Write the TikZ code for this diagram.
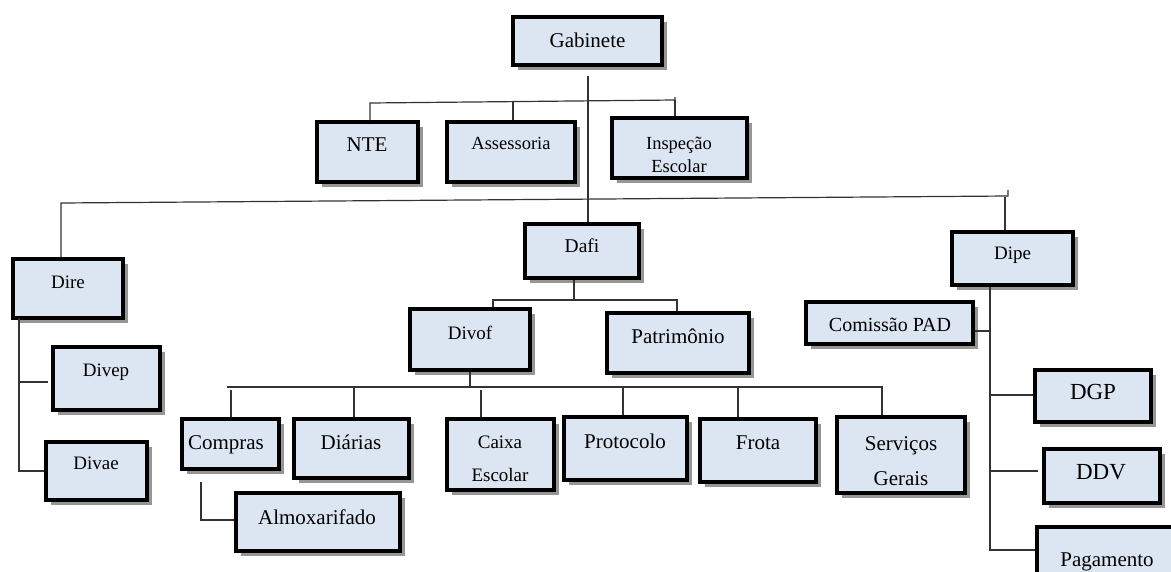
\documentclass[tikz,border=0pt]{standalone}
\usepackage{fontspec}
\setmainfont{Liberation Serif}
\usetikzlibrary{fit,shadows,calc}
\definecolor{boxfill}{HTML}{DCE6F2}
\tikzset{
  ob/.style={draw=black, line width=3.4pt, fill=boxfill, inner sep=0pt, rectangle,
    drop shadow={shadow xshift=4.5pt, shadow yshift=-4.5pt, fill=black!55, opacity=0.75}},
  lbl/.style={inner sep=0pt, align=center, text=black, yshift=-3pt},
  one/.style={text height=.68em, text depth=0pt},
  fa/.style={font=\fontsize{21}{24}\selectfont},
  fb/.style={font=\fontsize{19}{22}\selectfont},
  fc/.style={font=\fontsize{23}{26}\selectfont},
  conn/.style={draw=black!80, line width=1.2pt},
}
\begin{document}
\begin{tikzpicture}[x=1pt,y=-1pt]
\useasboundingbox (0,0) rectangle (1171,571);
\fill[white] (0,0) rectangle (1171,571);
\clip (0,0) rectangle (1171,571);

% boxes
\node[ob, fit={(513,17) (662,65)}] (gab) {};
\node[ob, fit={(317,122) (418,182)}] (nte) {};
\node[ob, fit={(447,122) (575,182)}] (ass) {};
\node[ob, fit={(612,118) (747,178)}] (ins) {};
\node[ob, fit={(13,259) (123,318)}] (dire) {};
\node[ob, fit={(53,347) (160,410)}] (divep) {};
\node[ob, fit={(46,442) (147,500)}] (divae) {};
\node[ob, fit={(525,224) (639,278)}] (dafi) {};
\node[ob, fit={(410,309) (530,370)}] (divof) {};
\node[ob, fit={(607,313) (749,373)}] (pat) {};
\node[ob, fit={(182,419) (279,469)}] (comp) {};
\node[ob, fit={(294,419) (409,478)}] (diar) {};
\node[ob, fit={(447,419) (554,490)}] (caixa) {};
\node[ob, fit={(236,493) (400,551)}] (almox) {};
\node[ob, fit={(564,417) (687,480)}] (prot) {};
\node[ob, fit={(700,419) (816,482)}] (frota) {};
\node[ob, fit={(837,417) (965,493)}] (serv) {};
\node[ob, fit={(952,232) (1073,285)}] (dipe) {};
\node[ob, fit={(806,302) (973,344)}] (com) {};
\node[ob, fit={(1035,370) (1151,422)}] (dgp) {};
\node[ob, fit={(1044,449) (1160,503)}] (ddv) {};
\node[ob, fit={(1037,527) (1195,595)}] (pag) {};

% texts
\node[lbl, one, fa] (gab-t) at (587.5,41) {Gabinete};
\node[lbl, one, fa] (nte-t) at (367,145) {NTE};
\node[lbl, one, font=\fontsize{18.5}{21}\selectfont] (ass-t) at (511,143) {Assessoria};
\node[lbl, font=\fontsize{18.5}{23}\selectfont] (ins-t) at (679,152) {Inspeção\\Escolar};
\node[lbl, one, fb] (dire-t) at (68,282) {Dire};
\node[lbl, one, fb] (divep-t) at (106,370) {Divep};
\node[lbl, one, fb] (divae-t) at (96,463) {Divae};
\node[lbl, one, font=\fontsize{19.5}{22}\selectfont] (dafi-t) at (582,246) {Dafi};
\node[lbl, one, fb] (divof-t) at (470,333) {Divof};
\node[lbl, one, fa] (pat-t) at (678,337) {Patrimônio};
\node[lbl, one, fa] (comp-t) at (226,443) {Compras};
\node[lbl, one, fa] (diar-t) at (351,443) {Diárias};
\node[lbl, font=\fontsize{19}{33}\selectfont] (caixa-t) at (500,456) {Caixa\\Escolar};
\node[lbl, one, fa] (almox-t) at (317,518) {Almoxarifado};
\node[lbl, one, fa] (prot-t) at (625,442) {Protocolo};
\node[lbl, one, fa] (frota-t) at (758,443) {Frota};
\node[lbl, font=\fontsize{21}{35}\selectfont] (serv-t) at (901,458) {Serviços\\Gerais};
\node[lbl, one, fb] (dipe-t) at (1012.5,253) {Dipe};
\node[lbl, one, font=\fontsize{20}{23}\selectfont] (com-t) at (890,325) {Comissão PAD};
\node[lbl, one, fc] (dgp-t) at (1093,393) {DGP};
\node[lbl, one, fc] (ddv-t) at (1101,473) {DDV};
\node[lbl, one, fa] (pag-t) at (1107,560) {Pagamento};

% connectors
\coordinate (g0) at (588,76);
\draw[conn] (g0) -- (g0 |- dafi.north);

\coordinate (t1) at (370,103);
\coordinate (t2) at (675,100);
\draw[conn] (t1 |- nte.north) -- (t1) -- (t2) -- ++(0,-3);
\draw[conn] (t2) -- (t2 |- ins.north);
\coordinate (ta) at (513,102);
\draw[conn] (ta) -- (ta |- ass.north);

\coordinate (m1) at (61,203);
\coordinate (m2) at (1008,196);
\coordinate (m3) at (1005,196.5);
\draw[conn] (m1 |- dire.north) -- (m1) -- (m2) -- ++(0,-6);
\draw[conn] (m3) -- (m3 |- dipe.north);

\coordinate (d0) at (19,318);
\coordinate (d1) at (19,382);
\coordinate (d2) at (19,471);
\draw[conn] (d0) -- (d2) -- (d2 -| divae.west);
\draw[conn] (d1) -- ($(d1 -| divep.west)+(-3,0)$);

\coordinate (f0) at (574,300);
\coordinate (f1) at (493,300);
\coordinate (f2) at (677,300);
\draw[conn] (f0 |- dafi.south) -- (f0);
\draw[conn] (f1 |- divof.north) -- (f1) -- (f2) -- (f2 |- pat.north);

\coordinate (v0) at (470,387);
\coordinate (vl) at (227,387);
\coordinate (vr) at (882,387);
\coordinate (vc) at (231,390);
\coordinate (vd) at (354,387);
\coordinate (vk) at (481,390);
\coordinate (vp) at (623,387);
\coordinate (vf) at (738,387);
\draw[conn] (v0 |- divof.south) -- (v0);
\draw[conn] (vl) -- (vr) -- (vr |- serv.north);
\draw[conn] (vc) -- (vc |- comp.north);
\draw[conn] (vd) -- (vd |- diar.north);
\draw[conn] (vk) -- (vk |- caixa.north);
\draw[conn] (vp) -- (vp |- prot.north);
\draw[conn] (vf) -- (vf |- frota.north);

\coordinate (a0) at (201,482);
\coordinate (a1) at (201,520);
\draw[conn] (a0) -- (a1) -- (a1 -| almox.west);

\coordinate (p0) at (990,285);
\coordinate (pc) at (990,331);
\coordinate (pg) at (990,395);
\coordinate (pd) at (990,471);
\coordinate (pp) at (990,550);
\draw[conn] (p0 |- dipe.south) -- (pp) -- (pp -| pag.west);
\draw[conn] (pc) -- (pc -| com.east);
\draw[conn] (pg) -- (pg -| dgp.west);
\draw[conn] (pd) -- ($(pd -| ddv.west)+(-4,0)$);
\end{tikzpicture}
\end{document}
